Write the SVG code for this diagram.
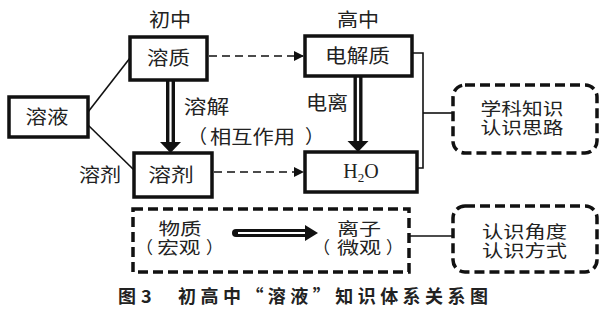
<svg xmlns="http://www.w3.org/2000/svg" width="610" height="315" viewBox="0 0 610 315">
<defs>
<style>
.box{fill:#fff;stroke:#111;stroke-width:3.5}
.dbox{fill:none;stroke:#111;stroke-width:3.5;stroke-dasharray:10 5}
.ln{fill:none;stroke:#111;stroke-width:1.6}
.dash{fill:none;stroke:#111;stroke-width:1.6;stroke-dasharray:8 5}
.t{font-family:"Noto Sans CJK SC","Noto Sans",sans-serif;font-size:19px;fill:#222;text-anchor:middle}
.tl{font-family:"Noto Sans CJK SC","Noto Sans",sans-serif;font-size:19px;fill:#222}
.s{font-family:"Noto Sans CJK SC","Noto Sans",sans-serif;font-size:17px;fill:#222;text-anchor:middle}
.sl{font-family:"Noto Sans CJK SC","Noto Sans",sans-serif;font-size:17px;fill:#222}
.cap{font-family:"Noto Sans CJK SC","Noto Sans",sans-serif;font-size:18px;font-weight:bold;fill:#222}
</style>
<marker id="ah" markerWidth="10" markerHeight="10" refX="9" refY="5" orient="auto" markerUnits="userSpaceOnUse">
<path d="M0,0 L10,5 L0,10 Z" fill="#111"/>
</marker>
</defs>
<rect width="610" height="315" fill="#fff"/>

<g id="connectors">
<line class="ln" x1="88" y1="112" x2="130" y2="58"/>
<line class="ln" x1="88" y1="125" x2="134" y2="170"/>
<line class="dash" x1="209" y1="56" x2="303" y2="56" marker-end="url(#ah)"/>
<line class="dash" x1="214" y1="172" x2="303" y2="172" marker-end="url(#ah)"/>
<g id="dbl1">
<line x1="170.5" y1="80" x2="170.5" y2="144" stroke="#111" stroke-width="9"/>
<line x1="170.5" y1="80" x2="170.5" y2="146" stroke="#fff" stroke-width="2.2"/>
<polygon points="160,142 181,142 170.5,153" fill="#111"/>
</g>
<g id="dbl2">
<line x1="358" y1="76" x2="358" y2="143" stroke="#111" stroke-width="9"/>
<line x1="358" y1="76" x2="358" y2="145" stroke="#fff" stroke-width="2.2"/>
<polygon points="347.5,141 368.5,141 358,152" fill="#111"/>
</g>
<path class="ln" d="M412,53 H423 V168 H417"/>
<line class="ln" x1="423" y1="113" x2="453" y2="113"/>
<g id="hollow">
<line x1="236" y1="233" x2="308" y2="233" stroke="#111" stroke-width="8" stroke-linecap="round"/>
<line x1="238" y1="233" x2="311" y2="233" stroke="#fff" stroke-width="2"/>
<polygon points="305,225 318,233 305,241" fill="#111"/>
</g>
<line class="ln" x1="410" y1="236" x2="453" y2="236"/>
</g>

<g id="n-rongye">
<rect class="box" x="9" y="97" width="79" height="40"/>
<text class="t" transform="translate(47,124) scale(1.13,1)">溶液</text>
</g>
<g id="n-chuzhong"><text class="t" font-size="18" transform="translate(170,27) scale(1.11,1)">初中</text></g>
<g id="n-gaozhong"><text class="t" font-size="18" transform="translate(358,27) scale(1.11,1)">高中</text></g>
<g id="n-rongzhi">
<rect class="box" x="130" y="37" width="77" height="43"/>
<text class="t" transform="translate(168.5,65) scale(1.13,1)">溶质</text>
</g>
<g id="n-rongji">
<rect class="box" x="134" y="153" width="78" height="44"/>
<text class="t" font-size="20" transform="translate(171,182) scale(1.2,1)">溶剂</text>
</g>
<g id="n-dianjiezhi">
<rect class="box" x="305" y="36" width="107" height="40"/>
<text class="t" transform="translate(357.5,63) scale(1.14,1)">电解质</text>
</g>
<g id="n-h2o">
<rect class="box" x="305" y="152" width="112" height="40"/>
<text x="361" y="178" font-family="Liberation Serif,serif" font-size="20" fill="#222" text-anchor="middle">H<tspan font-size="13" dy="4">2</tspan><tspan dy="-4">O</tspan></text>
</g>
<g id="l-rongjie"><text class="t" transform="translate(206.5,114) scale(1.2,1)">溶解</text></g>
<g id="l-xianghu">
<text class="tl" x="188" y="144">（</text>
<text class="t" transform="translate(252.5,144) scale(1.12,1)">相互作用</text>
<text class="tl" x="305" y="144">）</text>
</g>
<g id="l-dianli"><text class="t" font-size="18" transform="translate(327,110) scale(1.11,1)">电离</text></g>
<g id="l-rongji"><text class="t" font-size="18" transform="translate(100,182) scale(1.11,1)">溶剂</text></g>

<g id="n-siliu">
<rect class="dbox" x="453" y="85" width="144" height="68" rx="12"/>
<text class="s" transform="translate(522,115) scale(1.22,1)"><tspan x="0" y="0">学科知识</tspan><tspan x="0" y="19">认识思路</tspan></text>
</g>

<g id="n-macro-micro">
<rect class="dbox" x="133" y="209" width="276" height="63"/>
<text class="s" transform="translate(180,235) scale(1.27,1)"><tspan x="0" y="0">物质</tspan><tspan x="-1" y="19">宏观</tspan></text>
<text class="sl" x="136" y="254">（</text>
<text class="sl" x="206" y="254">）</text>
<text class="s" transform="translate(359,235) scale(1.3,1)"><tspan x="0" y="0">离子</tspan><tspan x="0" y="19">微观</tspan></text>
<text class="sl" x="313" y="254">（</text>
<text class="sl" x="386" y="254">）</text>
</g>

<g id="n-jiaodu">
<rect class="dbox" x="453" y="206" width="144" height="66" rx="12"/>
<text class="s" transform="translate(524.5,238) scale(1.25,1)"><tspan x="0" y="0">认识角度</tspan><tspan x="0" y="19">认识方式</tspan></text>
</g>

<g id="caption">
<text class="cap" x="118" y="303">图</text>
<text class="cap" x="141" y="303" font-family="Liberation Serif,serif" font-size="19">3</text>
<text class="cap" x="178" y="303" textLength="310" lengthAdjust="spacing">初高中“溶液”知识体系关系图</text>
</g>
</svg>
